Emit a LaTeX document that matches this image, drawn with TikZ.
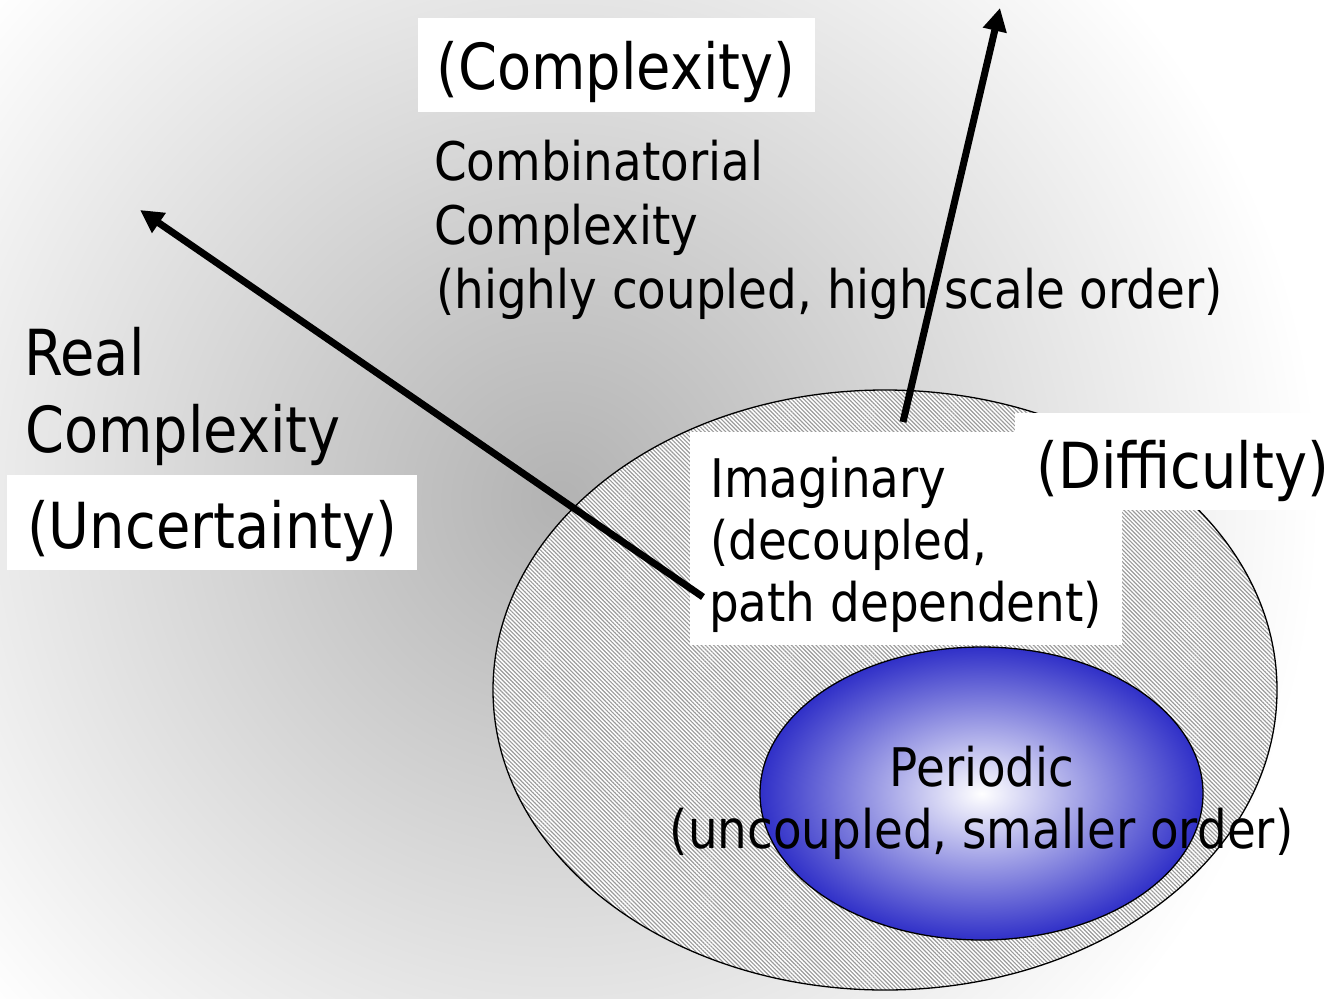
\documentclass[tikz,border=0pt]{standalone}
\usepackage{fontspec}
\setmainfont{DejaVu Sans}[FakeStretch=0.88]
\usetikzlibrary{arrows.meta,patterns.meta}

\definecolor{coreblue}{RGB}{48,48,200}
\definecolor{hatchgray}{RGB}{155,155,155}

\begin{document}
\begin{tikzpicture}[x=1pt,y=-1pt,
  big/.style={font=\fontsize{63.5}{76}\selectfont, inner sep=0pt, anchor=base west},
  small/.style={font=\fontsize{53.2}{64}\selectfont, inner sep=0pt, anchor=base west},
  labelbox/.style={fill=white},
  arrowline/.style={line width=7pt, -{Triangle[length=23pt,width=23pt]}},
  rim/.style={line width=1.3pt, draw=black}]

\useasboundingbox (0,0) rectangle (1340,998);

% soft grey backdrop
\fill[white] (0,0) rectangle (1340,998);
\begin{scope}
  \clip (0,0) rectangle (1340,998);
  \shade[inner color=gray!60, outer color=white] (560,500) circle (760pt);
\end{scope}

% outer hatched region
\fill[white] (885,690) ellipse [x radius=392pt, y radius=300pt];
\fill[pattern={Lines[angle=-45,distance=2.9pt,line width=1.15pt]}, pattern color=hatchgray]
  (885,690) ellipse [x radius=392pt, y radius=300pt];
\draw[rim] (885,690) ellipse [x radius=392pt, y radius=300pt];

% inner blue core
\shade[inner color=white, outer color=coreblue]
  (981.5,793.5) ellipse [x radius=221.5pt, y radius=146.5pt];
\draw[rim] (981.5,793.5) ellipse [x radius=221.5pt, y radius=146.5pt];

% white label panels
\fill[labelbox] (418,18) rectangle (815,112);
\fill[labelbox] (1015,413) rectangle (1340,510);
\fill[labelbox] (7,475) rectangle (417,570);
\fill[labelbox] (690,432) rectangle (1122,645);

% labels
\node[big] (cplx) at (436,89) {(Complexity)};

\node[small] (comb1) at (434,180) {Combinatorial};
\node[small] (comb2) at (434,244) {Complexity};
\node[small] (comb3) at (436,308) {(highly coupled, high scale order)};

\node[big] (real1) at (24,375) {Real};
\node[big] (real2) at (25,452) {Complexity};
\node[big] (uncert) at (27,548) {(Uncertainty)};

\node[big] (diff) at (1036,488) {(Difficulty)};

\node[small] (imag1) at (710,497) {Imaginary};
\node[small] (imag2) at (710,559) {(decoupled,};
\node[small] (imag3) at (709,621) {path dependent)};

\node[small, anchor=base] (per1) at (982,786) {Periodic};
\node[small, anchor=base] (per2) at (981.5,848) {(uncoupled, smaller order)};

% axes
\coordinate (realtail) at (703,597);
\coordinate (realtip) at (140,210);
\coordinate (combtail) at (903,422);
\coordinate (combtip) at (1000,8);
\draw[arrowline] (realtail) -- (realtip);
\draw[arrowline] (combtail) -- (combtip);

\end{tikzpicture}
\end{document}
